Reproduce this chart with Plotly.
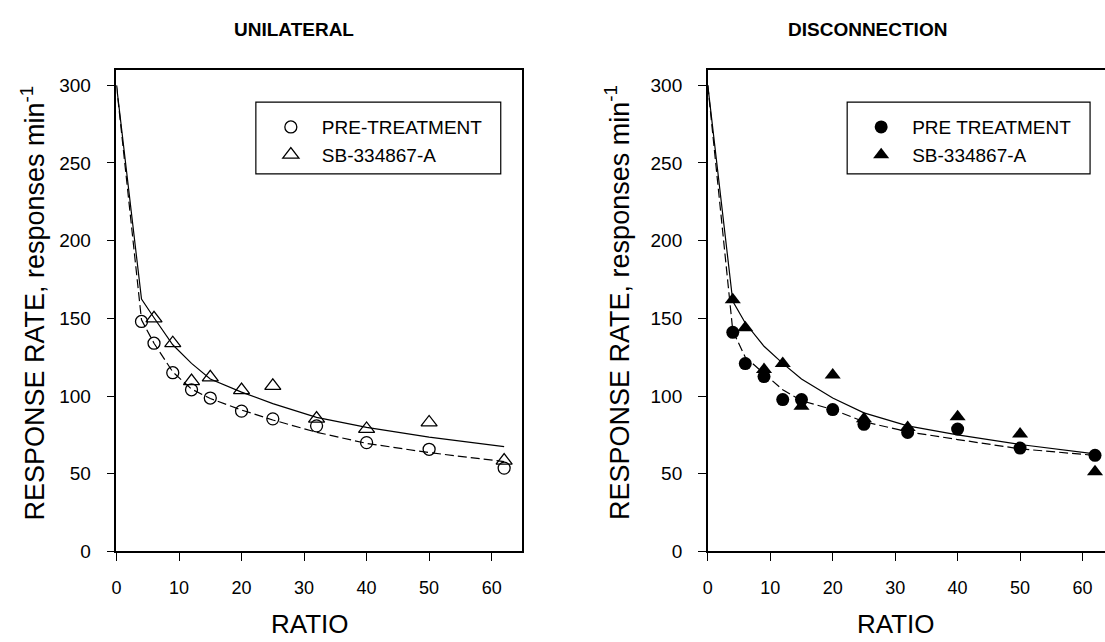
import plotly.graph_objects as go

# ---------------- data ----------------
ratio = [4, 6, 9, 12, 15, 20, 25, 32, 40, 50, 62]
uni_pre = [148, 134, 115, 104, 98.7, 90.3, 85.3, 80.8, 70, 65.7, 53.6]
uni_sb_x = [6, 9, 12, 15, 20, 25, 32, 40, 50, 62]
uni_sb = [150, 134, 109.6, 112, 103.8, 106.5, 85.5, 78.8, 83, 58.4]

dis_pre = [141, 120.9, 112.5, 97.7, 97.7, 91.3, 81.8, 76.6, 78.7, 66.5, 61.8]
dis_sb = [162, 144, 117, 121, 93.5, 113.5, 85.4, 79.7, 86.7, 75.5, 51.3]

fit_x = [0, 4, 6, 9, 12, 15, 20, 25, 32, 40, 50, 62]
uni_fit_pre = [300, 149, 134, 115.5, 104.5, 98.4, 91, 84.6, 76.7, 69.5, 63.6, 57.8]
uni_fit_sb = [300, 162.4, 150.4, 133, 121, 111, 102.5, 95.1, 86.3, 79.8, 73.5, 67.4]
dis_fit_pre = [300, 142, 125, 114.5, 104, 97, 91.3, 83.5, 77, 72, 66, 61.8]
dis_fit_sb = [300, 161, 147, 132, 121, 111, 98.7, 89.2, 80.8, 75, 68.8, 62.8]

x_ticks = [0, 10, 20, 30, 40, 50, 60]
y_ticks = [0, 50, 100, 150, 200, 250, 300]

FONT = "Liberation Sans, Arial, Helvetica, sans-serif"
W, H = 1105, 642

fig = go.Figure()

dash = "9px,4px"
# left panel
fig.add_trace(go.Scatter(x=fit_x, y=uni_fit_pre, mode="lines", line=dict(color="black", width=1.2, dash=dash),
                         showlegend=False, xaxis="x", yaxis="y"))
fig.add_trace(go.Scatter(x=fit_x, y=uni_fit_sb, mode="lines", line=dict(color="black", width=1.2),
                         showlegend=False, xaxis="x", yaxis="y"))
fig.add_trace(go.Scatter(x=ratio, y=uni_pre, mode="markers", name="PRE-TREATMENT",
                         marker=dict(symbol="circle-open", size=12, color="black", line=dict(width=1.3)),
                         xaxis="x", yaxis="y", legend="legend"))
fig.add_trace(go.Scatter(x=uni_sb_x, y=uni_sb, mode="markers", name="SB-334867-A",
                         marker=dict(symbol="triangle-up-open", size=14, color="black", line=dict(width=1.3)),
                         xaxis="x", yaxis="y", legend="legend"))
# right panel
fig.add_trace(go.Scatter(x=fit_x, y=dis_fit_pre, mode="lines", line=dict(color="black", width=1.2, dash=dash),
                         showlegend=False, xaxis="x2", yaxis="y2"))
fig.add_trace(go.Scatter(x=fit_x, y=dis_fit_sb, mode="lines", line=dict(color="black", width=1.2),
                         showlegend=False, xaxis="x2", yaxis="y2"))
fig.add_trace(go.Scatter(x=ratio, y=dis_pre, mode="markers", name="PRE TREATMENT",
                         marker=dict(symbol="circle", size=13, color="black"),
                         xaxis="x2", yaxis="y2", legend="legend2"))
fig.add_trace(go.Scatter(x=ratio, y=dis_sb, mode="markers", name="SB-334867-A",
                         marker=dict(symbol="triangle-up", size=14, color="black"),
                         xaxis="x2", yaxis="y2", legend="legend2"))


def px_x(p):
    return p / W


def px_y(p):
    return 1 - p / H


ydom = [px_y(561), px_y(71)]
axis_common = dict(showgrid=False, zeroline=False, showline=True, linecolor="black", linewidth=1.5,
                   ticks="outside", ticklen=8, tickwidth=1.2, tickcolor="black")
xtick = dict(ticklabelstandoff=11, tickfont=dict(family=FONT, size=18, color="black"))
ytick = dict(ticklabelstandoff=12, tickfont=dict(family=FONT, size=19, color="black"))

leg_common = dict(xanchor="left", yanchor="top", bgcolor="rgba(0,0,0,0)", borderwidth=0,
                  font=dict(family=FONT, size=19, color="black"), tracegroupgap=0, itemwidth=52)


def ann(text, x, y, size, angle=0, family=FONT):
    return dict(text=text, x=px_x(x), y=px_y(y), xref="paper", yref="paper", xanchor="center",
                yanchor="middle", textangle=angle, showarrow=False,
                font=dict(family=family, size=size, color="black"))


fig.update_layout(
    width=W, height=H,
    margin=dict(l=0, r=0, t=0, b=0),
    paper_bgcolor="white", plot_bgcolor="white",
    font=dict(family=FONT, color="black"),
    xaxis=dict(domain=[px_x(112), px_x(519)], range=[0, 64.8], tickvals=x_ticks, mirror=True,
               anchor="y", **axis_common, **xtick),
    yaxis=dict(domain=ydom, range=[0, 310], tickvals=y_ticks, mirror=True, anchor="x", **axis_common, **ytick),
    xaxis2=dict(domain=[px_x(706), 1.0], range=[0, 63.6], tickvals=x_ticks, mirror=True,
                anchor="y2", **axis_common, **xtick),
    yaxis2=dict(domain=ydom, range=[0, 310], tickvals=y_ticks, mirror=False, anchor="x2", **axis_common, **ytick),
    legend=dict(x=px_x(256), y=px_y(110), **leg_common),
    legend2=dict(x=px_x(849), y=px_y(110), **leg_common),
    shapes=[
        dict(type="rect", xref="paper", yref="paper", x0=px_x(252), x1=px_x(498), y0=px_y(177), y1=px_y(104),
             line=dict(color="black", width=1.2)),
        dict(type="rect", xref="paper", yref="paper", x0=px_x(846), x1=px_x(1090), y0=px_y(177), y1=px_y(104),
             line=dict(color="black", width=1.2)),
    ],
    annotations=[
        ann("<b>UNILATERAL</b>", 290, 30, 19),
        ann("<b>DISCONNECTION</b>", 866, 30, 19),
        ann("RESPONSE RATE, responses min<sup>-1</sup>", 28, 308, 27, -90),
        ann("RESPONSE RATE, responses min<sup>-1</sup>", 615, 308, 27, -90),
        ann("RATIO", 306, 635, 26),
        ann("RATIO", 895, 635, 26),
    ],
)

fig.write_html("out.html")
